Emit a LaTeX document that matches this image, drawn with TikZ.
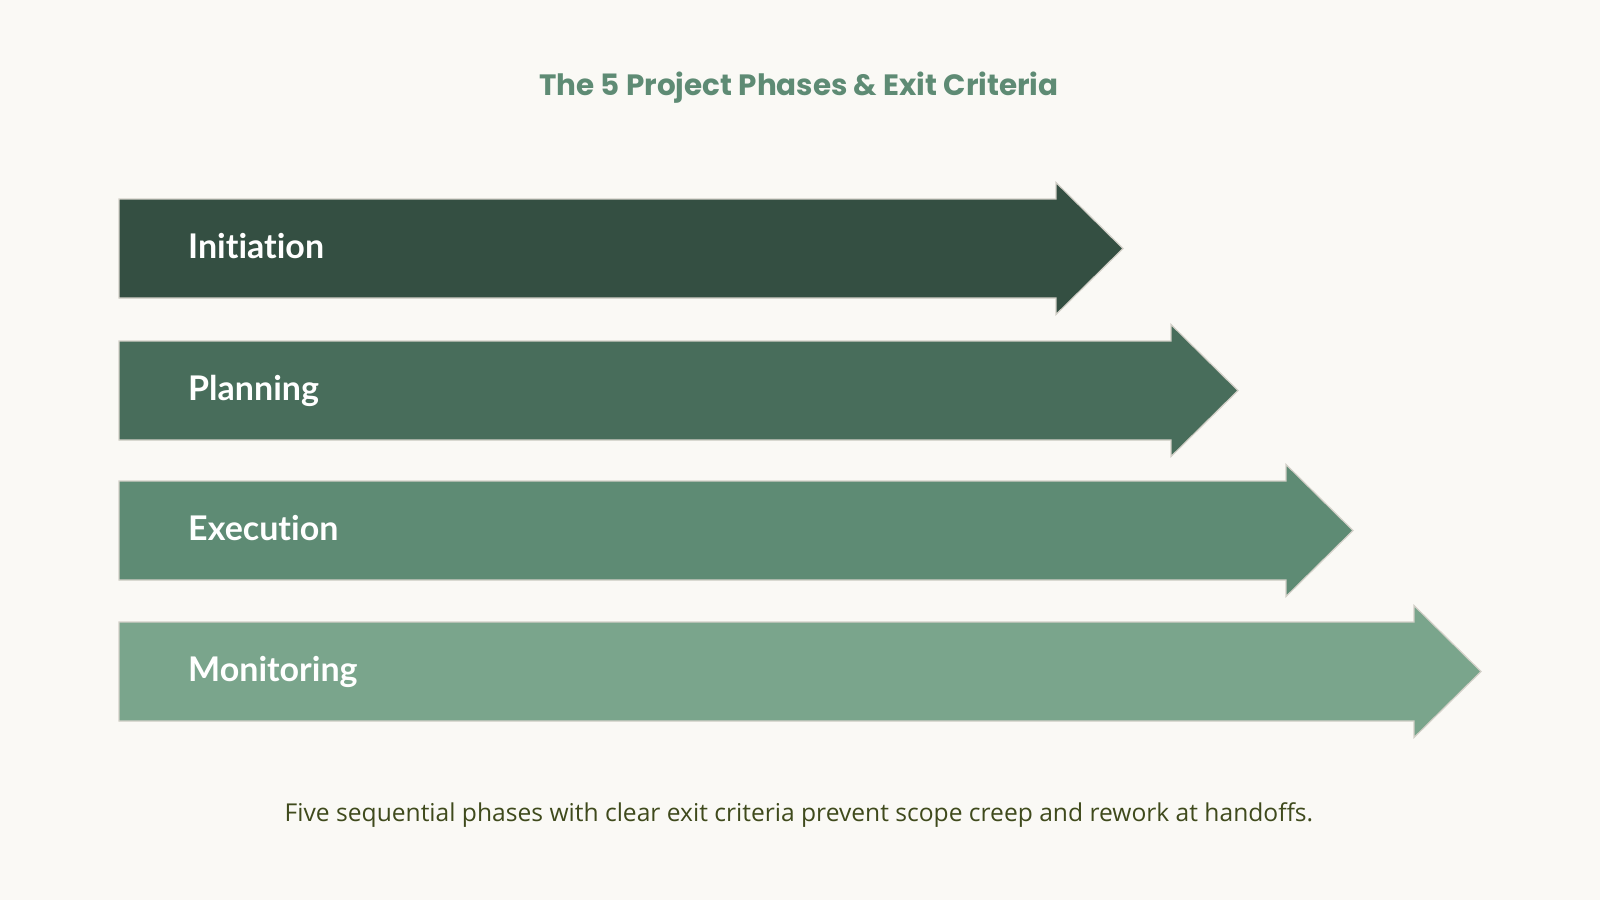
\documentclass[tikz,border=0pt]{standalone}
\usepackage{fontspec}
\setmainfont{Lato}[Ligatures={NoCommon}]
\newfontfamily\titlefont{Poppins}
\newfontfamily\capfont{Open Sans}
\definecolor{bgc}{HTML}{FAF9F5}
\definecolor{edgec}{HTML}{D3D0C8}
\definecolor{cA}{HTML}{344F42}
\definecolor{cB}{HTML}{486D5B}
\definecolor{cC}{HTML}{5E8B74}
\definecolor{cD}{HTML}{7AA58C}
\definecolor{titlec}{HTML}{5E8B74}
\definecolor{capc}{HTML}{3F4A1C}
\tikzset{
  phasearrow/.style={draw=edgec, line width=1.2pt, line join=miter},
  phaselabel/.style={anchor=base west, text=white, font=\fontsize{34}{40}\selectfont\bfseries, inner sep=0pt},
  titlelabel/.style={anchor=base, text=titlec, font=\titlefont\fontsize{29.4}{34}\selectfont\bfseries, inner sep=0pt},
  caplabel/.style={anchor=base, text=capc, font=\capfont\fontsize{24.6}{28}\selectfont, inner sep=0pt}
}
\begin{document}
\begin{tikzpicture}[x=1pt,y=-1pt]
\fill[bgc] (0,0) rectangle (1600,900);
\useasboundingbox (0,0) rectangle (1600,900);
\node[titlelabel] (title) at (799,95) {The 5 Project Phases \& Exit Criteria};
% arrows: top, bottom, head start, tip
\foreach \yT/\yB/\hs/\tip/\col/\nm/\txt in {199/298/1056/1123/cA/pA/Initiation, 341/440/1171/1238/cB/pB/Planning, 481/580/1286/1353/cC/pC/Execution, 622/721/1414/1481/cD/pD/Monitoring}{
  \pgfmathsetmacro{\yM}{(\yT+\yB)/2}
  \pgfmathsetmacro{\yL}{\yM+9.5}
  \pgfmathsetmacro{\hT}{\yT-16.5}
  \pgfmathsetmacro{\hB}{\yB+16.5}
  \filldraw[phasearrow, fill=\col] (119,\yT) -- (\hs,\yT) -- (\hs,\hT) -- (\tip,\yM) -- (\hs,\hB) -- (\hs,\yB) -- (119,\yB) -- cycle;
  \node[phaselabel] (\nm) at (188,\yL) {\txt};
}
\node[caplabel] (cap) at (799,821) {Five sequential phases with clear exit criteria prevent scope creep and rework at handoffs.};
\end{tikzpicture}
\end{document}
